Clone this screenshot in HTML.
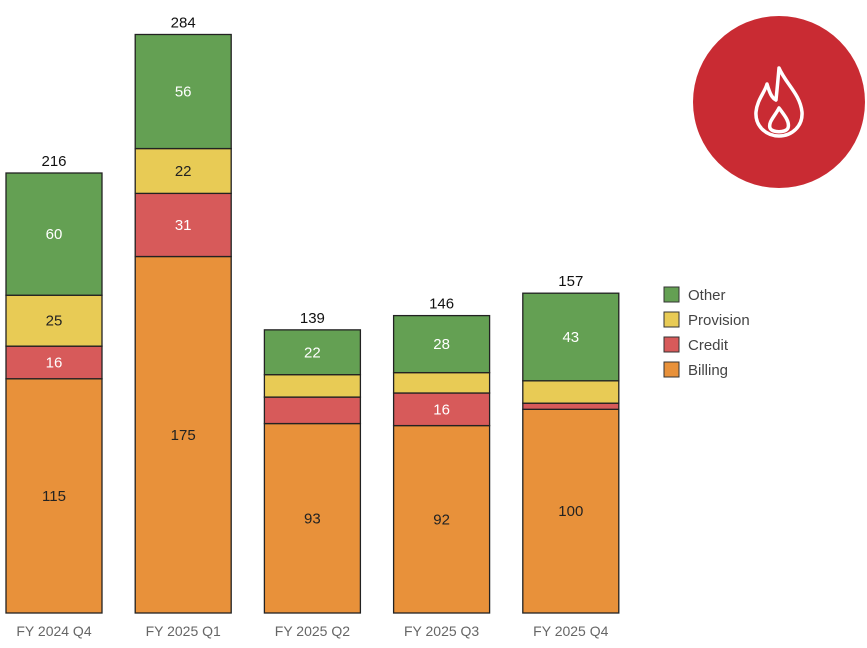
<!DOCTYPE html>
<html><head><meta charset="utf-8"><style>
body{margin:0;background:#fff;width:867px;height:648px;overflow:hidden;font-family:"Liberation Sans",sans-serif}
</style></head><body>
<svg id="chart" width="867" height="648" xmlns="http://www.w3.org/2000/svg" style="position:absolute;left:0;top:0">
<g id="bars"></g>
<g id="legend"></g>
<g>
<circle cx="779" cy="102" r="86" fill="#C92B33"/>
<path d="M779 68 C786 84 800 94 802 112 C803 126 792 136 779 136 C766 136 755 126 756 112 C757 100 765 92 767 84 C770 94 772 98 776 100 C777 90 778 80 779 68 Z" fill="none" stroke="#fff" stroke-width="3.5" stroke-linejoin="round"/>
<path d="M779 108 C785 116 790 122 788 128 C786 133 772 133 770 128 C768 122 775 116 779 108 Z" fill="none" stroke="#fff" stroke-width="3.5" stroke-linejoin="round"/>
</g>
</svg>
<script>
const categories=["FY 2024 Q4","FY 2025 Q1","FY 2025 Q2","FY 2025 Q3","FY 2025 Q4"];
const billing=[115,175,93,92,100];
const credit=[16,31,13,16,3];
const provision=[25,22,11,10,11];
const other=[60,56,22,28,43];
const seriesNames=["Billing","Credit","Provision","Other"];
const showLabel=[[1,1,1,1,1],[1,1,0,1,0],[1,1,0,0,0],[1,1,1,1,1]];
const colors=["#E8913A","#D75A5A","#E8CB55","#64A053"];
const NS="http://www.w3.org/2000/svg";
const base=613, k=2.037, barW=96;
function y(v){return base-v*k;}
function x(i){return 6+i*129.2;}
const g=document.getElementById('bars');
function mk(t,a){const e=document.createElementNS(NS,t);for(const n in a)e.setAttribute(n,a[n]);return e;}
const series=[billing,credit,provision,other];
categories.forEach((c,i)=>{
  let cum=0;
  series.forEach((s,j)=>{
    const v=s[i];
    const r=mk('rect',{x:x(i),y:y(cum+v),width:barW,height:v*k,fill:colors[j],stroke:'#222','stroke-width':1.3});
    
    
    g.appendChild(r);
    if(showLabel[j][i]){
      const t=mk('text',{x:x(i)+barW/2,y:y(cum+v/2)+5,'text-anchor':'middle','font-size':15,fill:(j==1||j==3)?'#fff':'#222'});
      t.textContent=v;
      
      
      g.appendChild(t);
    }
    cum+=v;
  });
  const tt=mk('text',{x:x(i)+barW/2,y:y(cum)-7,'text-anchor':'middle','font-size':15,fill:'#111'});
  tt.textContent=cum;
  
  
  g.appendChild(tt);
  const xl=mk('text',{x:x(i)+barW/2,y:636,'text-anchor':'middle','font-size':14,fill:'#666'});
  xl.textContent=c;
  
  
  g.appendChild(xl);
});
const lg=document.getElementById('legend');
[3,2,1,0].forEach((j,n)=>{
  const r=mk('rect',{x:664,y:287+n*25,width:15,height:15,fill:colors[j],stroke:'#333','stroke-width':1});
  
  
  lg.appendChild(r);
  const t=mk('text',{x:688,y:300+n*25,'font-size':15,fill:'#444'});
  t.textContent=seriesNames[j];
  
  
  lg.appendChild(t);
});
</script>
</body></html>
